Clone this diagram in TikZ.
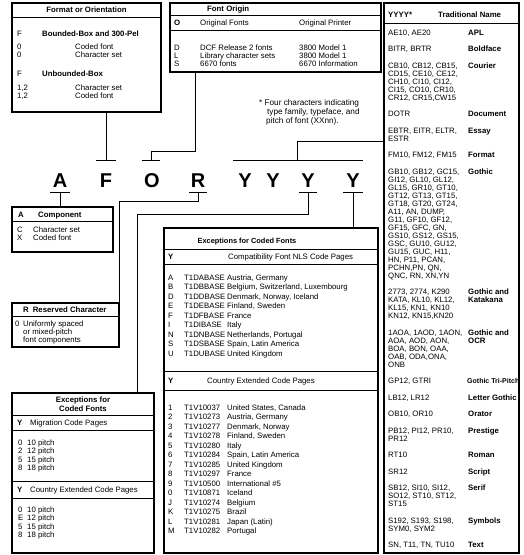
\documentclass[tikz,border=0pt]{standalone}
\usepackage{fontspec}
\setmainfont{Liberation Sans}
\newcommand\tcell[1]{\parbox[t]{78pt}{\raggedright #1}}
\begin{document}
\begin{tikzpicture}[x=1pt,y=-1pt,
  frame/.style={draw, line width=1.2pt, inner sep=0pt, outer sep=0pt, anchor=north west},
  sep/.style={line width=0.7pt},
  con/.style={line width=1pt},
  txt/.style={anchor=base west, inner sep=0pt, font=\fontsize{7.8}{8}\selectfont},
  btxt/.style={anchor=base west, inner sep=0pt, font=\bfseries\fontsize{7.8}{8}\selectfont},
  ctxt/.style={anchor=base, inner sep=0pt, font=\bfseries\fontsize{7.8}{8}\selectfont},
  ftxt/.style={anchor=base west, inner sep=0pt, font=\fontsize{8.2}{9}\selectfont},
  big/.style={anchor=base, inner sep=0pt, font=\bfseries\fontsize{20}{20}\selectfont},
]
\useasboundingbox (0,0) rectangle (523,555);

% ---------- boxes ----------
\node[frame, minimum width=149pt, minimum height=109pt] (b1) at (12,3) {};
\node[frame, minimum width=211pt, minimum height=69pt] (bO) at (170,3) {};
\node[frame, minimum width=135pt, minimum height=550pt] (bT) at (384,3) {};
\node[frame, minimum width=101pt, minimum height=45pt] (bA) at (12,207) {};
\node[frame, minimum width=107pt, minimum height=44pt] (bR) at (12,303) {};
\node[frame, minimum width=142pt, minimum height=160pt] (bX) at (12,393) {};
\node[frame, minimum width=214pt, minimum height=325pt] (bM) at (164,228) {};

% ---------- Format or Orientation ----------
\node[ctxt] (h1) at (86.5,12) {Format or Orientation};
\draw[sep] (12,17) -- (161,17);
\node[txt] (f1a) at (17,36) {F};   \node[btxt] (f1b) at (42,36) {Bounded-Box and 300-Pel};
\node[txt] (f2a) at (17,49) {0};   \node[txt] (f2b) at (75,49) {Coded font};
\node[txt] (f3a) at (17,57) {0};   \node[txt] (f3b) at (75,57) {Character set};
\node[txt] (f4a) at (17,76) {F};   \node[btxt] (f4b) at (42,76) {Unbounded-Box};
\node[txt] (f5a) at (17,90) {1,2}; \node[txt] (f5b) at (75,90) {Character set};
\node[txt] (f6a) at (17,98) {1,2}; \node[txt] (f6b) at (75,98) {Coded font};

% ---------- Font Origin ----------
\node[btxt] (hO) at (207,11) {Font Origin};
\draw[sep] (170,15) -- (381,15);
\node[btxt] (o0a) at (174,25) {O};
\node[txt] (o0b) at (200,25) {Original Fonts};
\node[txt] (o0c) at (299,25) {Original Printer};
\draw[sep] (170,30) -- (381,30);
\node[txt] (o1a) at (174,50) {D}; \node[txt] (o1b) at (200,50) {DCF Release 2 fonts};     \node[txt] (o1c) at (299,50) {3800 Model 1};
\node[txt] (o2a) at (174,58) {L}; \node[txt] (o2b) at (200,58) {Library character sets}; \node[txt] (o2c) at (299,58) {3800 Model 1};
\node[txt] (o3a) at (174,66) {S}; \node[txt] (o3b) at (200,66) {6670 fonts};              \node[txt] (o3c) at (299,66) {6670 Information};

% ---------- footnote ----------
\node[ftxt] (fn1) at (259,105) {* Four characters indicating};
\node[ftxt] (fn2) at (267,114) {type family, typeface, and};
\node[ftxt] (fn3) at (266,123) {pitch of font (XXnn).};

% ---------- big letters ----------
\node[big] (lA) at (60,187) {A};
\node[big] (lF) at (106,187) {F};
\node[big] (lO) at (152,187) {O};
\node[big] (lR) at (198,187) {R};
\node[big] (lY1) at (245,187) {Y};
\node[big] (lY2) at (273,187) {Y};
\node[big] (lY3) at (308,187) {Y};
\node[big] (lY4) at (353,187) {Y};

% ---------- connectors ----------
\coordinate (tF) at (106,160);
\draw[con] ([xshift=-10pt]tF) -- ([xshift=10pt]tF);
\draw[con] (b1.south -| tF) -- (tF);

\coordinate (tO) at (151,160);
\coordinate (eO) at (195,151);
\draw[con] ([xshift=-9pt]tO) -- ([xshift=9pt]tO);
\draw[con] (bO.south -| eO) -- (eO) -| (tO);

\coordinate (gY) at (297,160);
\coordinate (eG) at (297,141);
\draw[con] (233,160) -- (363,160);
\draw[con] (gY) -- (eG) -- (eG -| bT.west);

\coordinate (tA) at (60,192);
\draw[con] ([xshift=-10pt]tA) -- ([xshift=10pt]tA);
\draw[con] (tA) -- (tA |- bA.north);

\coordinate (tR) at (198,192);
\coordinate (eR) at (198,201);
\draw[con] ([xshift=-9pt]tR) -- ([xshift=9pt]tR);
\draw[con] (tR) -- (eR) -| (bR.north east);

\coordinate (tY3) at (308,192);
\coordinate (eY3) at (308,214);
\draw[con] ([xshift=-9pt]tY3) -- ([xshift=9pt]tY3);
\draw[con] (tY3) -- (eY3) -| ([xshift=-17pt]bX.north east);

\coordinate (tY4) at (353,192);
\draw[con] ([xshift=-10pt]tY4) -- ([xshift=10pt]tY4);
\draw[con] (tY4) -- (tY4 |- bM.north);

% ---------- Component ----------
\node[btxt] (a0a) at (18,217) {A}; \node[btxt] (a0b) at (38,217) {Component};
\draw[sep] (12,221) -- (113,221);
\node[txt] (a1a) at (17,232) {C}; \node[txt] (a1b) at (33,232) {Character set};
\node[txt] (a2a) at (17,240) {X}; \node[txt] (a2b) at (33,240) {Coded font};

% ---------- Reserved Character ----------
\node[btxt] (r0) at (23,312) {R\hspace{4pt}Reserved Character};
\draw[sep] (12,316) -- (119,316);
\node[txt] (r1a) at (15,326) {0}; \node[txt] (r1b) at (23,326) {Uniformly spaced};
\node[txt] (r2) at (23,334) {or mixed-pitch};
\node[txt] (r3) at (23,342) {font components};

% ---------- Exceptions (bottom left) ----------
\node[ctxt] (x0) at (83,402) {Exceptions for};
\node[ctxt] (x0b) at (83,411) {Coded Fonts};
\draw[sep] (12,415) -- (154,415);
\node[btxt] (x1a) at (17,425) {Y}; \node[txt] (x1b) at (30,425) {Migration Code Pages};
\draw[sep] (12,430) -- (154,430);
\foreach \k/\p [count=\i] in {0/10,2/12,5/15,8/18}{
  \node[txt] (xm\i) at (18,{445+8.5*(\i-1)}) {\k};
  \node[txt] (xp\i) at (27,{445+8.5*(\i-1)}) {\p\ pitch};
}
\draw[sep] (12,481) -- (154,481);
\node[btxt] (x2a) at (17,492) {Y}; \node[txt] (x2b) at (30,492) {Country Extended Code Pages};
\draw[sep] (12,498) -- (154,498);
\foreach \k/\p [count=\i] in {0/10,E/12,5/15,8/18}{
  \node[txt] (xc\i) at (18,{512+8.5*(\i-1)}) {\k};
  \node[txt] (xq\i) at (27,{512+8.5*(\i-1)}) {\p\ pitch};
}

% ---------- Exceptions for Coded Fonts (middle) ----------
\node[ctxt, font=\bfseries\fontsize{7.4}{8}\selectfont] (m0) at (247,243) {Exceptions for Coded Fonts};
\draw[sep] (164,249) -- (378,249);
\node[btxt] (m1a) at (168,259) {Y}; \node[txt] (m1b) at (228,259) {Compatibility Font NLS Code Pages};
\draw[sep] (164,264) -- (378,264);
\foreach \l/\c/\n [count=\i] in {A/T1DABASE/{Austria, Germany}, B/T1DBBASE/{Belgium, Switzerland, Luxembourg}, D/T1DDBASE/{Denmark, Norway, Iceland}, E/T1DEBASE/{Finland, Sweden}, F/T1DFBASE/France, I/T1DIBASE/Italy, N/T1DNBASE/{Netherlands, Portugal}, S/T1DSBASE/{Spain, Latin America}, U/T1DUBASE/{United Kingdom}}{
  \node[txt] (mk\i) at (168,{280+9.5*(\i-1)}) {\l};
  \node[txt] (mc\i) at (184,{280+9.5*(\i-1)}) {\c};
  \node[txt] (mn\i) at (227,{280+9.5*(\i-1)}) {\n};
}
\draw[sep] (164,371) -- (378,371);
\node[btxt] (m2a) at (168,383) {Y}; \node[txt] (m2b) at (207,383) {Country Extended Code Pages};
\draw[sep] (164,390) -- (378,390);
\foreach \l/\c/\n [count=\i] in {1/T1V10037/{United States, Canada}, 2/T1V10273/{Austria, Germany}, 3/T1V10277/{Denmark, Norway}, 4/T1V10278/{Finland, Sweden}, 5/T1V10280/Italy, 6/T1V10284/{Spain, Latin America}, 7/T1V10285/{United Kingdom}, 8/T1V10297/France, 9/T1V10500/{International \#5}, 0/T1V10871/Iceland, J/T1V10274/Belgium, K/T1V10275/Brazil, L/T1V10281/{Japan (Latin)}, M/T1V10282/Portugal}{
  \node[txt] (vk\i) at (168,{410+9.5*(\i-1)}) {\l};
  \node[txt] (vc\i) at (184,{410+9.5*(\i-1)}) {\c};
  \node[txt] (vn\i) at (227,{410+9.5*(\i-1)}) {\n};
}

% ---------- right table ----------
\node[btxt] (t0a) at (388,17) {YYYY*};
\node[btxt] (t0b) at (438,17) {Traditional Name};
\draw[sep] (384,23) -- (519,23);
\node[txt] (c1) at (388,35) {\tcell{AE10, AE20}};   \node[btxt] (n1) at (468,35) {\tcell{APL}};
\node[txt] (c2) at (388,51.5) {\tcell{BITR, BRTR}}; \node[btxt] (n2) at (468,51.5) {\tcell{Boldface}};
\node[txt] (c3) at (388,68) {\tcell{CB10, CB12, CB15,\\CD15, CE10, CE12,\\CH10, CI10, CI12,\\CI15, CO10, CR10,\\CR12, CR15,CW15}};
\node[btxt] (n3) at (468,68) {\tcell{Courier}};
\node[txt] (c4) at (388,116.5) {\tcell{DOTR}}; \node[btxt] (n4) at (468,116.5) {\tcell{Document}};
\node[txt] (c5) at (388,133) {\tcell{EBTR, EITR, ELTR,\\ESTR}}; \node[btxt] (n5) at (468,133) {\tcell{Essay}};
\node[txt] (c6) at (388,157.5) {\tcell{FM10, FM12, FM15}}; \node[btxt] (n6) at (468,157.5) {\tcell{Format}};
\node[txt] (c7) at (388,174) {\tcell{GB10, GB12, GC15,\\GI12, GL10, GL12,\\GL15, GR10, GT10,\\GT12, GT13, GT15,\\GT18, GT20, GT24,\\A11, AN, DUMP,\\G11, GF10, GF12,\\GF15, GFC, GN,\\GS10, GS12, GS15,\\GSC, GU10, GU12,\\GU15, GUC, H11,\\HN, P11, PCAN,\\PCHN,PN, QN,\\QNC, RN, XN,YN}};
\node[btxt] (n7) at (468,174) {\tcell{Gothic}};
\node[txt] (c8) at (388,294.5) {\tcell{2773, 2774, K290\\KATA, KL10, KL12,\\KL15, KN1, KN10\\KN12, KN15,KN20}};
\node[btxt] (n8) at (468,294.5) {\tcell{Gothic and\\Katakana}};
\node[txt] (c9) at (388,335) {\tcell{1AOA, 1AOD, 1AON,\\AOA, AOD, AON,\\BOA, BON, OAA,\\OAB, ODA,ONA,\\ONB}};
\node[btxt] (n9) at (468,335) {\tcell{Gothic and\\OCR}};
\node[txt] (c10) at (388,383.5) {\tcell{GP12, GTRI}};
\node[btxt, font=\bfseries\fontsize{7}{8}\selectfont] (n10) at (467,383.5) {Gothic Tri-Pitch};
\node[txt] (c11) at (388,400) {\tcell{LB12, LR12}}; \node[btxt] (n11) at (468,400) {\tcell{Letter Gothic}};
\node[txt] (c12) at (388,416.5) {\tcell{OB10, OR10}}; \node[btxt] (n12) at (468,416.5) {\tcell{Orator}};
\node[txt] (c13) at (388,433) {\tcell{PB12, PI12, PR10,\\PR12}}; \node[btxt] (n13) at (468,433) {\tcell{Prestige}};
\node[txt] (c14) at (388,457.5) {\tcell{RT10}}; \node[btxt] (n14) at (468,457.5) {\tcell{Roman}};
\node[txt] (c15) at (388,474) {\tcell{SR12}}; \node[btxt] (n15) at (468,474) {\tcell{Script}};
\node[txt] (c16) at (388,490.5) {\tcell{SB12, SI10, SI12,\\SO12, ST10, ST12,\\ST15}}; \node[btxt] (n16) at (468,490.5) {\tcell{Serif}};
\node[txt] (c17) at (388,523) {\tcell{S192, S193, S198,\\SYM0, SYM2}}; \node[btxt] (n17) at (468,523) {\tcell{Symbols}};
\node[txt] (c18) at (388,547.5) {\tcell{SN, T11, TN, TU10}}; \node[btxt] (n18) at (468,547.5) {\tcell{Text}};
\end{tikzpicture}
\end{document}
